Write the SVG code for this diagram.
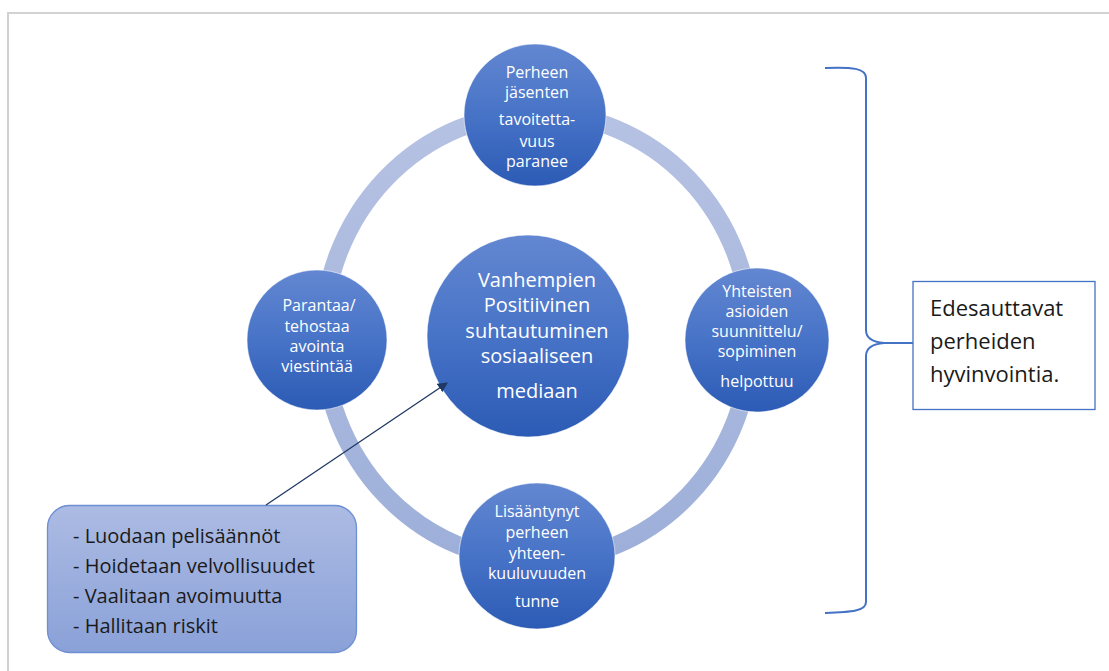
<svg xmlns="http://www.w3.org/2000/svg" width="1109" height="671" viewBox="0 0 1109 671">
  <defs>
    <linearGradient id="nodeFill" x1="0" y1="0" x2="0" y2="1">
      <stop offset="0" stop-color="#6387d1"/>
      <stop offset="0.5" stop-color="#4773c7"/>
      <stop offset="1" stop-color="#2c5bb5"/>
    </linearGradient>
    <linearGradient id="ringStroke" x1="0" y1="0" x2="0" y2="1">
      <stop offset="0" stop-color="#b6c2e3"/>
      <stop offset="1" stop-color="#9dafd9"/>
    </linearGradient>
    <linearGradient id="calloutFill" x1="0" y1="0" x2="0" y2="1">
      <stop offset="0" stop-color="#acbbe3"/>
      <stop offset="1" stop-color="#8aa1d8"/>
    </linearGradient>
    <marker id="arrowHead" viewBox="0 0 10 10" refX="9" refY="5" markerWidth="10" markerHeight="10" markerUnits="userSpaceOnUse" orient="auto">
      <path d="M0,0 L10,5 L0,10 z" fill="#1f3864"/>
    </marker>
    <style>
      .node { fill: url(#nodeFill); stroke: #ffffff; stroke-opacity: 0.55; stroke-width: 1; }
      .ntext { font-family: "Open Sans", "Noto Sans", sans-serif; font-size: 16px; fill: #ffffff; text-anchor: middle; }
      .ctext { font-family: "Open Sans", "Noto Sans", sans-serif; font-size: 20px; fill: #ffffff; text-anchor: middle; }
      .btext { font-family: "Open Sans", "Noto Sans", sans-serif; font-size: 20px; fill: #1a1a1a; }
      .rtext { font-family: "Open Sans", "Noto Sans", sans-serif; font-size: 22px; fill: #1a1a1a; }
      .frame { fill: none; stroke: #d2d2d2; stroke-width: 2; }
      .brace { fill: none; stroke: #4472c4; stroke-width: 2; }
      .conn { fill: none; stroke: #1f3864; stroke-width: 1.3; }
    </style>
  </defs>

  <rect width="1109" height="671" fill="#ffffff"/>
  <!-- page frame (top and left edges) -->
  <path class="frame" d="M8,671 L8,13 L1109,13"/>

  <!-- cycle ring behind the nodes -->
  <ellipse id="ring" cx="537" cy="337" rx="214" ry="224" fill="none" stroke="url(#ringStroke)" stroke-width="18"/>

  <g id="node-top">
    <circle class="node" cx="535" cy="115" r="71"/>
    <text class="ntext" x="537" y="78">Perheen</text>
    <text class="ntext" x="537" y="98">jäsenten</text>
    <text class="ntext" x="537" y="125">tavoitetta-</text>
    <text class="ntext" x="537" y="147">vuus</text>
    <text class="ntext" x="537" y="167">paranee</text>
  </g>

  <g id="node-left">
    <circle class="node" cx="317" cy="340" r="70"/>
    <text class="ntext" x="319" y="311">Parantaa/</text>
    <text class="ntext" x="317" y="332">tehostaa</text>
    <text class="ntext" x="317" y="352">avointa</text>
    <text class="ntext" x="317" y="372">viestintää</text>
  </g>

  <g id="node-right">
    <circle class="node" cx="757" cy="340" r="72"/>
    <text class="ntext" x="757" y="297">Yhteisten</text>
    <text class="ntext" x="757" y="317">asioiden</text>
    <text class="ntext" x="757" y="337">suunnittelu/</text>
    <text class="ntext" x="757" y="357">sopiminen</text>
    <text class="ntext" x="757" y="387">helpottuu</text>
  </g>

  <g id="node-bottom">
    <ellipse class="node" cx="537" cy="556" rx="78" ry="73"/>
    <text class="ntext" x="537" y="517">Lisääntynyt</text>
    <text class="ntext" x="537" y="538">perheen</text>
    <text class="ntext" x="537" y="559">yhteen-</text>
    <text class="ntext" x="537" y="579">kuuluvuuden</text>
    <text class="ntext" x="537" y="607">tunne</text>
  </g>

  <g id="node-center">
    <circle class="node" cx="528" cy="336" r="101"/>
    <text class="ctext" x="537" y="287">Vanhempien</text>
    <text class="ctext" x="537" y="312">Positiivinen</text>
    <text class="ctext" x="537" y="338">suhtautuminen</text>
    <text class="ctext" x="537" y="363">sosiaaliseen</text>
    <text class="ctext" x="537" y="398">mediaan</text>
  </g>

  <g id="node-callout">
    <rect x="47.5" y="505.5" width="309" height="147" rx="22" ry="22" fill="url(#calloutFill)" stroke="#6d8fd4" stroke-width="1.3"/>
    <text class="btext" x="73" y="543">- Luodaan pelisäännöt</text>
    <text class="btext" x="73" y="573">- Hoidetaan velvollisuudet</text>
    <text class="btext" x="73" y="603">- Vaalitaan avoimuutta</text>
    <text class="btext" x="73" y="633">- Hallitaan riskit</text>
  </g>

  <g id="node-result">
    <rect x="913" y="281.5" width="182" height="128" fill="#ffffff" stroke="#4472c4" stroke-width="1.3"/>
    <text class="rtext" x="930" y="316">Edesauttavat</text>
    <text class="rtext" x="930" y="349">perheiden</text>
    <text class="rtext" x="930" y="382">hyvinvointia.</text>
  </g>

  <g id="connectors">
    <line class="conn" x1="266" y1="505" x2="447" y2="383" marker-end="url(#arrowHead)"/>
    <!-- curly brace grouping the four outcomes -->
    <path class="brace" d="M825,68 C852,67 866,68 866,78 L866,330 C866,337 872,342 884,343 C872,344 866,349 866,356 L866,602 C866,611 852,612 825,613"/>
    <path class="brace" d="M884,343 L913,343"/>
  </g>
</svg>
